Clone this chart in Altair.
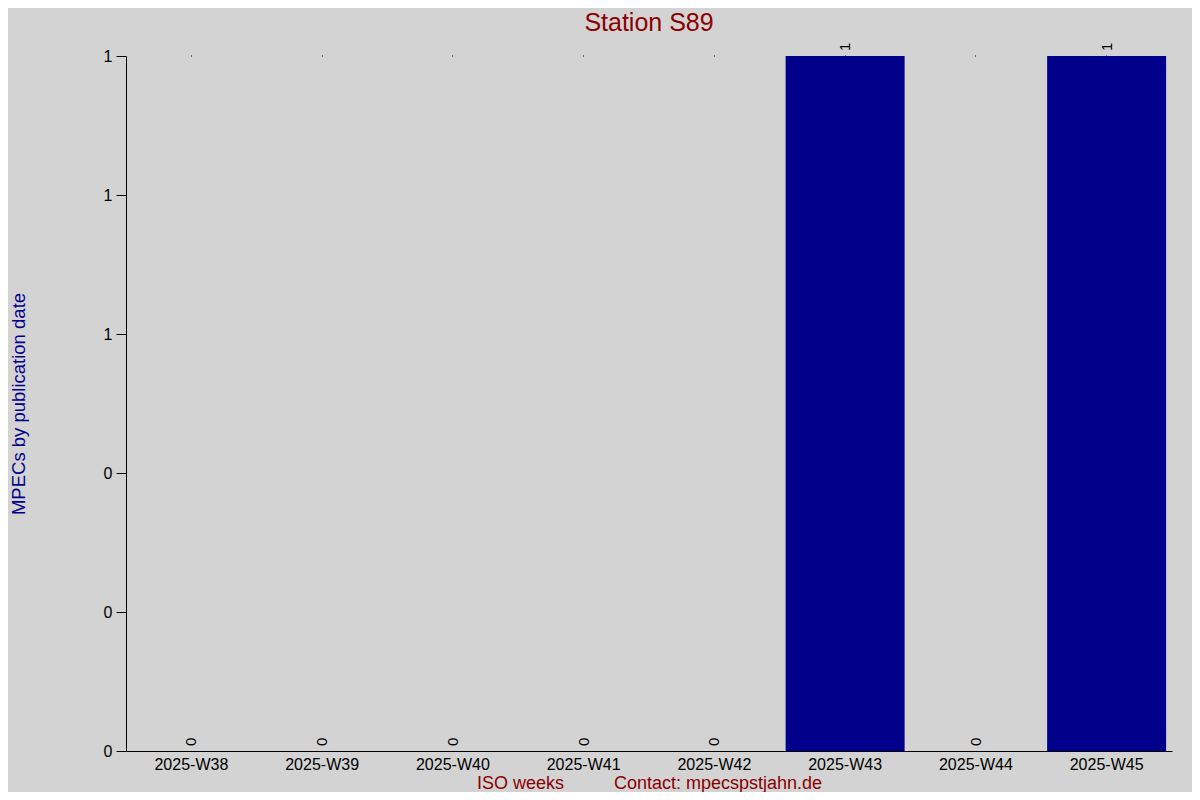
import altair as alt
import pandas as pd

weeks = ["2025-W38", "2025-W39", "2025-W40", "2025-W41", "2025-W42", "2025-W43", "2025-W44", "2025-W45"]
counts = [0, 0, 0, 0, 0, 1, 0, 1]

df = pd.DataFrame({"week": weeks, "count": counts})

FONT = "Liberation Sans"
sp = "\u00a0" * 10

xscale = alt.Scale(paddingInner=0.09, paddingOuter=0.045)

bars = alt.Chart(df).mark_bar(color="#00008B").encode(
    x=alt.X("week:N", sort=weeks, scale=xscale,
            axis=alt.Axis(title="ISO weeks" + sp + "Contact: mpecspstjahn.de", labelAngle=0,
                          ticks=False, domainColor="black", labelColor="black",
                          labelFontSize=16, labelFont=FONT, labelPadding=5,
                          titleColor="#8B0000", titleFontSize=18, titleFont=FONT,
                          titleFontWeight="normal", titlePadding=2, grid=False)),
    y=alt.Y("count:Q", scale=alt.Scale(domain=[0, 1], nice=False),
            axis=alt.Axis(title="MPECs by publication date", values=[0, 0.2, 0.4, 0.6, 0.8, 1],
                          format=".0f", tickSize=10, tickColor="black", domainColor="black",
                          labelColor="black", labelFontSize=16, labelFont=FONT, labelPadding=4,
                          titleColor="#00008B", titleFontSize=18.5, titleFont=FONT,
                          titleFontWeight="normal", titlePadding=75, grid=False)),
)

labels = alt.Chart(df).mark_text(angle=270, align="left", baseline="middle", dx=5,
                                 fontSize=15, font=FONT, color="black").encode(
    x=alt.X("week:N", sort=weeks, scale=xscale,
            axis=alt.Axis(orient="top", labels=False, domain=False, tickSize=1,
                          tickColor="black", title=None, grid=False)),
    y=alt.Y("count:Q", axis=None),
    text=alt.Text("count:Q"),
)

chart = alt.layer(bars, labels).resolve_axis(x="independent", y="independent").properties(
    width=1046, height=695,
    title=alt.TitleParams("Station S89", color="#8B0000", fontSize=25, font=FONT,
                          fontWeight="normal", anchor="middle", offset=7),
    background="#D3D3D3",
    padding={"left": 118, "top": 48, "right": 20, "bottom": 41},
    autosize=alt.AutoSizeParams(type="none"),
).configure_view(stroke=None)

chart.save("out.html", embed_options={"renderer": "svg", "actions": False})
